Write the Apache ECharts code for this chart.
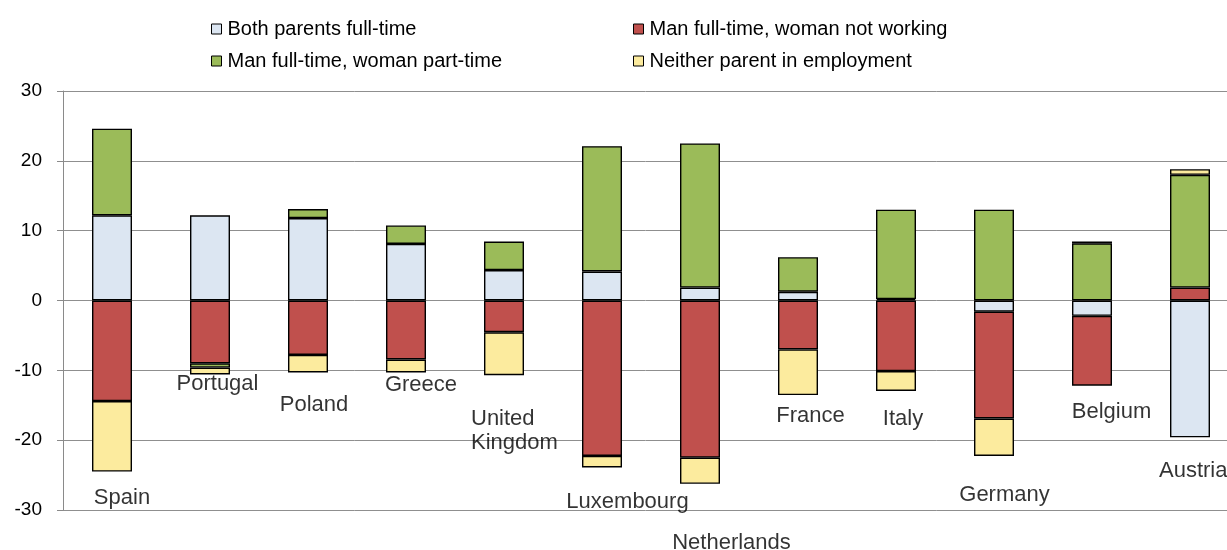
<!DOCTYPE html>
<html>
<head>
<meta charset="utf-8">
<script src="https://cdn.jsdelivr.net/npm/echarts@6/dist/echarts.min.js"></script>
<style>
html,body{margin:0;padding:0;background:#fff;}
#chart{width:1227px;height:550px;}
</style>
</head>
<body>
<div id="chart"></div>
<script>
// ---- data ----
var categories = ['Spain','Portugal','Poland','Greece','United Kingdom','Luxembourg','Netherlands','France','Italy','Germany','Belgium','Austria'];
var seriesNames = ['Both parents full-time','Man full-time, woman not working','Man full-time, woman part-time','Neither parent in employment'];
var bothFullTime   = [12.2, 12.2, 11.8, 8.1, 4.35, 4.15, 1.85, 1.25, 0.2, -1.6, -2.2, -19.6];
var womanNotWork   = [-14.4, -9.0, -7.8, -8.45, -4.55, -22.25, -22.5, -7.0, -10.1, -15.3, -10.0, 1.85];
var womanPartTime  = [12.4, -0.6, 1.3, 2.65, 4.1, 17.95, 20.65, 4.95, 12.8, 13.0, 8.2, 16.15];
var neitherEmployed= [-10.1, -1.0, -2.5, -1.85, -6.15, -1.65, -3.75, -6.55, -2.85, -5.35, 0.25, 0.8];
var yTicks = [-30, -20, -10, 0, 10, 20, 30];

// ---- annotation placement for category names (in axis units / pixels) ----
var labelY  = [-28.3, -11.9, -14.9, -12.1, -18.7, -28.8, -34.7, -16.5, -16.9, -27.8, -15.9, -24.4];
var labelDx = [10, 7.5, 6, 15, -33, 25.5, 31.5, 12.5, 7, 10.5, 19.5, -31];
var labelAlign = ['center','center','center','center','left','center','center','center','center','center','center','left'];

var colors = ['#DCE6F2', '#C0504D', '#9BBB59', '#FCEB9E'];
var values = [bothFullTime, womanNotWork, womanPartTime, neitherEmployed];
var FONT = "'Liberation Sans', Arial, sans-serif";

var chart = echarts.init(document.getElementById('chart'), null, {renderer:'canvas'});

var series = seriesNames.map(function(name, i){
  return {
    name: name,
    type: 'bar',
    stack: 'total',
    barWidth: 40,
    data: values[i],
    itemStyle: {color: colors[i], borderColor: '#000', borderWidth: 1.4},
    emphasis: {disabled: true},
    animation: false
  };
});

series.push({
  name: 'labels',
  type: 'scatter',
  symbolSize: 0,
  clip: false,
  silent: true,
  animation: false,
  data: categories.map(function(c, i){
    return {
      value: [i, labelY[i]],
      name: c,
      label: {offset: [labelDx[i], 0], align: labelAlign[i]}
    };
  }),
  label: {
    show: true,
    position: 'inside',
    formatter: function(p){ return p.name === 'United Kingdom' ? 'United\nKingdom' : p.name; },
    color: '#000',
    fontSize: 22,
    lineHeight: 24,
    fontFamily: FONT,
    verticalAlign: 'middle'
  }
});

var legendCommon = {
  orient: 'vertical',
  top: 19,
  padding: 0,
  itemWidth: 10,
  itemHeight: 10,
  itemGap: 12,
  icon: 'rect',
  selectedMode: false,
  itemStyle: {borderColor: '#000', borderWidth: 1},
  textStyle: {fontSize: 20, lineHeight: 20, color: '#000', fontFamily: FONT, padding: [0,0,0,1]}
};

chart.setOption({
  animation: false,
  backgroundColor: '#fff',
  legend: [
    Object.assign({}, legendCommon, {left: 211, data: [seriesNames[0], seriesNames[2]]}),
    Object.assign({}, legendCommon, {left: 633, data: [seriesNames[1], seriesNames[3]]})
  ],
  grid: {left: 63, top: 91, width: 1176, height: 419, containLabel: false, outerBoundsMode: 'none'},
  xAxis: {
    type: 'category',
    data: categories,
    axisLine: {show: false},
    axisTick: {show: false},
    axisLabel: {show: false},
    splitLine: {show: false}
  },
  yAxis: {
    type: 'value',
    min: yTicks[0],
    max: yTicks[yTicks.length - 1],
    interval: 10,
    axisLine: {show: true, lineStyle: {color: '#8a8a8a', width: 1}},
    axisTick: {show: true, length: 6, lineStyle: {color: '#8a8a8a', width: 1}},
    axisLabel: {color: '#000', fontSize: 19, fontFamily: FONT, margin: 21},
    splitLine: {show: true, lineStyle: {color: '#8f8f8f', width: 1}}
  },
  series: series
});
</script>
</body>
</html>
